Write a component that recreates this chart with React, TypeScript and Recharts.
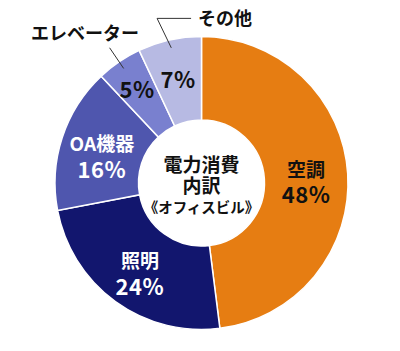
import { Label, Pie, PieChart, Cell } from "recharts";

const NAMES = ["空調", "照明", "OA機器", "エレベーター", "その他"];
const VALUES = [48, 24, 16, 5, 7];
const COLORS = ["#E67D12", "#12166E", "#4F56AE", "#7980CF", "#B7BAE3"];
const LABEL_COLORS = ["#111", "#fff", "#fff", "#111", "#111"];
// small slices: name sits outside with a leader line
const OUTSIDE = [false, false, false, true, true];

const data = NAMES.map((name, i) => ({ name, value: VALUES[i] }));

const FONT = '"Noto Sans CJK JP", "Noto Sans", sans-serif';
const RAD = Math.PI / 180;
const CX = 201.5;
const CY = 183;

function polar(cx: number, cy: number, r: number, a: number) {
  return { x: cx + r * Math.cos(-a * RAD), y: cy + r * Math.sin(-a * RAD) };
}

function SliceLabel(props: any) {
  const { cx, cy, midAngle, innerRadius, outerRadius, index } = props;
  const pct = `${VALUES[index]}%`;
  const fill = LABEL_COLORS[index];
  const mid = (innerRadius + outerRadius) / 2;
  if (!OUTSIDE[index]) {
    const p = polar(cx, cy, mid, midAngle);
    const y = p.y + 4;
    return (
      <g style={{ fontFamily: FONT, fontWeight: 700 }}>
        <text x={p.x} y={y - 12} fill={fill} fontSize={19} textAnchor="middle" dominantBaseline="central">
          {NAMES[index]}
        </text>
        <text x={p.x} y={y + 13} fill={fill} fontSize={22} textAnchor="middle" dominantBaseline="central" letterSpacing={0.5}>
          {pct}
        </text>
      </g>
    );
  }
  const p = polar(cx, cy, mid + (index === 3 ? 10 : 3), midAngle);
  const a = polar(cx, cy, outerRadius - 8, midAngle);
  let line: string;
  let tx: number;
  let ty: number;
  let anchor: "start" | "middle";
  if (index === 3) {
    const b = polar(cx, cy, outerRadius + 17, midAngle);
    line = `M${a.x},${a.y}L${b.x},${b.y}`;
    const t = polar(cx, cy, outerRadius + 44, midAngle + 3.5);
    tx = t.x;
    ty = t.y;
    anchor = "middle";
  } else {
    const b = polar(cx, cy, outerRadius + 24, midAngle + 2.5);
    line = `M${a.x},${a.y}L${b.x},${b.y}L${b.x + 34},${b.y}`;
    tx = b.x + 41;
    ty = b.y - 1;
    anchor = "start";
  }
  return (
    <g style={{ fontFamily: FONT, fontWeight: 700 }}>
      <path d={line} stroke="#333" strokeWidth={1} fill="none" />
      <text x={p.x} y={p.y} fill={fill} fontSize={22} textAnchor="middle" dominantBaseline="central" letterSpacing={0.5}>
        {pct}
      </text>
      <text x={tx} y={ty} fill="#111" fontSize={18} textAnchor={anchor} dominantBaseline="central">
        {NAMES[index]}
      </text>
    </g>
  );
}

function CenterLabel() {
  return (
    <g style={{ fontFamily: FONT, fontWeight: 700 }} fill="#111">
      <text x={CX} y={CY - 20} fontSize={19} textAnchor="middle" dominantBaseline="central">
        電力消費
      </text>
      <text x={CX} y={CY + 1} fontSize={19} textAnchor="middle" dominantBaseline="central">
        内訳
      </text>
      <text x={CX} y={CY + 23} fontSize={14.5} textAnchor="middle" dominantBaseline="central">
        《オフィスビル》
      </text>
    </g>
  );
}

export default function App() {
  return (
    <div style={{ position: "absolute", left: 0, top: 0, width: 400, height: 351, background: "#fff" }}>
      <PieChart width={400} height={351} margin={{ top: 0, right: 0, bottom: 0, left: 0 }}>
        <Pie
          data={data}
          dataKey="value"
          nameKey="name"
          cx={CX}
          cy={CY}
          innerRadius={63}
          outerRadius={146.5}
          startAngle={90}
          endAngle={-270}
          stroke="#fff"
          strokeWidth={1.5}
          label={SliceLabel}
          labelLine={false}
          isAnimationActive={false}
        >
          {data.map((d, i) => (
            <Cell key={d.name} fill={COLORS[i]} />
          ))}
          <Label position="center" content={CenterLabel} />
        </Pie>
      </PieChart>
    </div>
  );
}
